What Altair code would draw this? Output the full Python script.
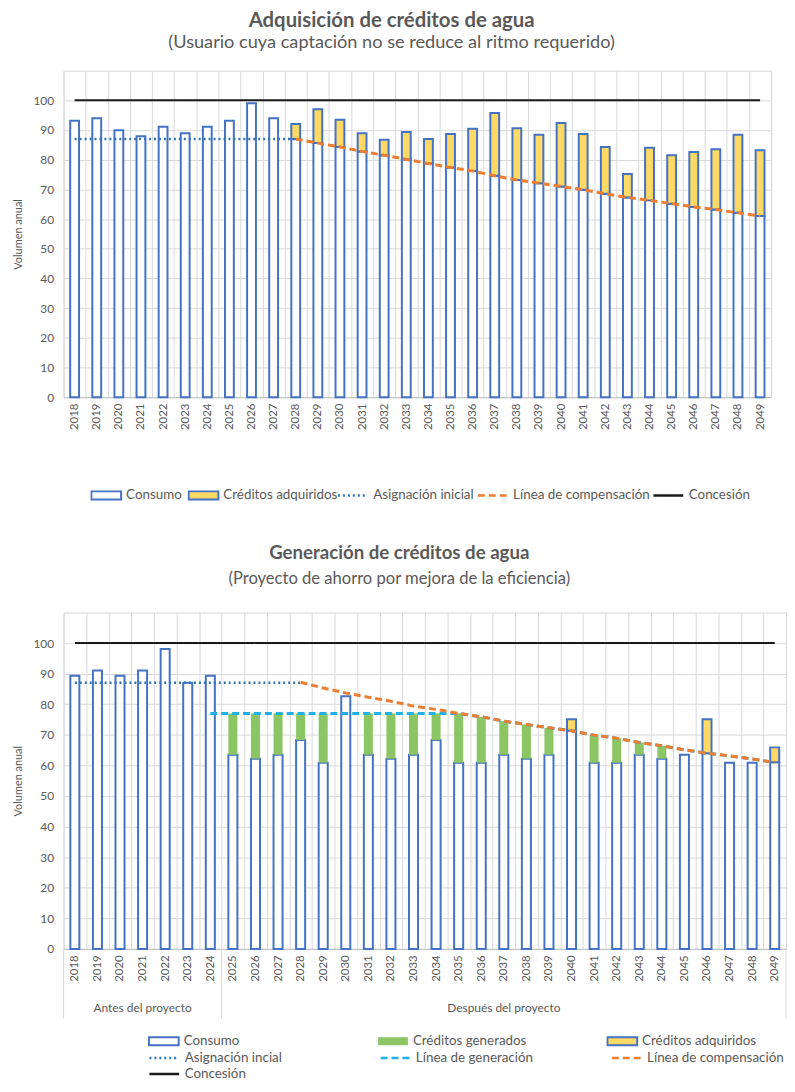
import altair as alt
import pandas as pd

FONT = "Lato"
GRAY = "#595959"
GRID = "#D9D9D9"
BLUE = "#4472C4"

years = [str(y) for y in range(2018, 2050)]

# ---------------- Chart 1: Adquisición de créditos de agua ----------------
a_consumo = [93.1, 94.0, 89.9, 87.9, 91.1, 88.9, 91.1, 93.1, 99.0, 94.0,
             87.0, 85.6, 84.3, 82.8, 81.5, 80.1, 78.7, 77.4, 76.2, 74.6, 73.2,
             72.1, 71.0, 69.9, 68.5, 67.3, 66.3, 65.2, 64.1, 63.2, 62.1, 61.0]
a_adquiridos = [0, 0, 0, 0, 0, 0, 0, 0, 0, 0,
                5.0, 11.4, 9.2, 6.1, 5.2, 9.2, 8.3, 11.3, 14.2, 21.1, 17.4,
                16.3, 21.4, 18.8, 15.8, 7.9, 17.7, 16.3, 18.5, 20.3, 26.3, 22.2]
a_asignacion = [87, 87, 87, 87, 87, 87, 87, 87, 87, 87, 87,
                None, None, None, None, None, None, None, None, None, None,
                None, None, None, None, None, None, None, None, None, None, None]
a_compensacion = [None, None, None, None, None, None, None, None, None, None,
                  87.0, 85.6, 84.3, 82.8, 81.5, 80.1, 78.7, 77.4, 76.2, 74.6, 73.2,
                  72.1, 71.0, 69.9, 68.5, 67.3, 66.3, 65.2, 64.1, 63.2, 62.1, 61.0]
a_concesion = [100] * 32

# ---------------- Chart 2: Generación de créditos de agua ----------------
b_consumo = [89.3, 91.0, 89.3, 91.0, 98.1, 87.0, 89.3,
             63.5, 62.2, 63.5, 68.3, 60.9, 82.6, 63.5, 62.2, 63.5, 68.3, 60.9,
             60.9, 63.5, 62.2, 63.5, 71.3, 60.9, 60.9, 63.5, 62.2, 63.5, 64.0,
             60.9, 60.9, 61.0]
b_generados = [0, 0, 0, 0, 0, 0, 0,
               13.5, 14.8, 13.5, 8.7, 16.1, 0, 13.5, 14.8, 13.5, 8.7, 16.1,
               15.0, 11.0, 11.2, 8.8, 0, 9.0, 8.0, 4.0, 4.2, 0, 0,
               0, 0, 0]
b_adquiridos = [0, 0, 0, 0, 0, 0, 0,
                0, 0, 0, 0, 0, 0, 0, 0, 0, 0, 0,
                0, 0, 0, 0, 3.8, 0, 0, 0, 0, 0, 11.1,
                0, 0, 4.9]
b_asignacion = [87, 87, 87, 87, 87, 87, 87, 87, 87, 87, 87,
                None, None, None, None, None, None, None, None, None, None,
                None, None, None, None, None, None, None, None, None, None, None]
b_generacion = [None, None, None, None, None, None,
                77, 77, 77, 77, 77, 77, 77, 77, 77, 77, 77, 77,
                75.9, 74.5, 73.4, 72.3, 71.3, 69.9, 68.9, 67.5, 66.4, 65.1, 64.0,
                63.1, 62.1, 61.0]
b_compensacion = [None, None, None, None, None, None, None, None, None, None,
                  87.2, 85.3, 83.7, 82.3, 81.0, 79.4, 78.3, 77.0, 75.9, 74.5, 73.4,
                  72.3, 71.3, 69.9, 68.9, 67.5, 66.4, 65.1, 64.0, 63.1, 62.1, 61.0]
b_concesion = [100] * 32

group_years = ["2021", "2037"]
group_labels = ["Antes del proyecto", "Después del proyecto"]


def bar_frame(series):
    rows = []
    for name, vals, k in series:
        for y, v in zip(years, vals):
            if v:
                rows.append({"year": y, "serie": name, "value": v, "orden": k})
    return pd.DataFrame(rows)


def line_frame(name, vals):
    return pd.DataFrame([{"year": y, "serie": name, "value": v}
                         for y, v in zip(years, vals) if v is not None])


BAR_SYMBOL = "M-1,-0.27H1V0.27H-1Z"


def legend(x, y, kind, **kw):
    base = dict(title=None, orient="none", direction="horizontal",
                legendX=x, legendY=y, symbolSize=900, clipHeight=16,
                labelFont=FONT, labelFontSize=13.5, labelColor=GRAY,
                labelOffset=4, labelLimit=300)
    if kind == "bar":
        base.update(symbolType=BAR_SYMBOL, symbolStrokeWidth=2)
    else:
        base.update(symbolType="stroke", symbolStrokeWidth=2.5)
    base.update(kw)
    return alt.Legend(**base)


def make_chart(width, height, bars, bar_dom, bar_fill, bar_stroke, bar_leg,
               lines, line_dom, line_col, line_dash, line_leg, title, extra=None):
    xscale = alt.Scale(domain=years, paddingInner=0, paddingOuter=0)
    yscale = alt.Scale(domain=[0, 110], nice=False)
    xaxis = alt.Axis(title=None, labelAngle=-90, labelFont=FONT, labelFontSize=11.5,
                     labelColor=GRAY, labelPadding=6, ticks=False, tickBand="extent",
                     grid=True, gridColor=GRID, domainColor="#BFBFBF")
    yaxis = alt.Axis(values=list(range(0, 101, 10)), title="Volumen anual",
                     titleFont=FONT, titleFontSize=11, titleFontWeight="normal",
                     titleColor=GRAY, labelFont=FONT, labelFontSize=12,
                     labelColor=GRAY, ticks=False, domain=False, grid=True,
                     gridColor=GRID, labelPadding=10, titlePadding=10)
    bdf = bar_frame(bars)
    layer = [
        alt.Chart(bdf).mark_bar(width=alt.RelativeBandSize(0.4), strokeWidth=2).encode(
            x=alt.X("year:O", scale=xscale, axis=xaxis),
            y=alt.Y("value:Q", stack="zero", scale=yscale, axis=yaxis),
            fill=alt.Fill("serie:N", scale=alt.Scale(domain=bar_dom, range=bar_fill), legend=bar_leg),
            stroke=alt.Stroke("serie:N", scale=alt.Scale(domain=bar_dom, range=bar_stroke), legend=bar_leg),
            order=alt.Order("orden:Q"),
        )
    ]
    color = alt.Color("serie:N", scale=alt.Scale(domain=line_dom, range=line_col), legend=line_leg)
    dash = alt.StrokeDash("serie:N", scale=alt.Scale(domain=line_dom, range=line_dash), legend=line_leg)
    for name, vals, w in lines:
        layer.append(
            alt.Chart(line_frame(name, vals)).mark_line(strokeWidth=w).encode(
                x=alt.X("year:O", scale=xscale, axis=xaxis),
                y=alt.Y("value:Q", scale=yscale, axis=yaxis),
                color=color, strokeDash=dash,
            )
        )
    if extra:
        layer.extend(extra)
    return alt.layer(*layer).properties(width=width, height=height, title=title)


def title_params(text, subtitle, fs, sfs, sub_pad, offset):
    return alt.TitleParams(
        text=text, subtitle=subtitle, anchor="middle", frame="bounds",
        font=FONT, fontSize=fs, fontWeight="bold", color=GRAY,
        subtitleFont=FONT, subtitleFontSize=sfs, subtitleColor=GRAY,
        subtitlePadding=sub_pad, offset=offset)


# ---------- top chart ----------
TOP_H = 329
top = make_chart(
    713, TOP_H,
    [("Consumo", a_consumo, 0), ("Créditos adquiridos", a_adquiridos, 2)],
    ["Consumo", "Créditos adquiridos"], ["white", "#FFD966"], [BLUE, BLUE],
    legend(27, 420, "bar", columnPadding=5),
    [("Asignación inicial", a_asignacion, 2.5),
     ("Línea de compensación", a_compensacion, 3),
     ("Concesión", a_concesion, 2)],
    ["Asignación inicial", "Línea de compensación", "Concesión"],
    ["#2E75B6", "#ED7D31", "#1A1A1A"], [[2, 3], [7, 4], [1, 0]],
    legend(275, 420, "line", columnPadding=2),
    title_params("Adquisición de créditos de agua",
                 "(Usuario cuya captación no se reduce al ritmo requerido)",
                 20.5, 18.3, 2, 20))

# ---------- bottom chart ----------
BOT_H = 339
gdf = pd.DataFrame({"year": group_years, "text": group_labels})
sep_start = pd.DataFrame({"year": ["2018", "2025"]})
sep_end = pd.DataFrame({"year": ["2049"]})
bx = alt.Scale(domain=years, paddingInner=0, paddingOuter=0)
extra = [
    alt.Chart(gdf).mark_text(font=FONT, fontSize=12, color=GRAY, baseline="middle").encode(
        x=alt.X("year:O", scale=bx), y=alt.value(BOT_H + 60), text="text:N"),
    alt.Chart(sep_start).mark_rule(color=GRID, strokeWidth=1).encode(
        x=alt.X("year:O", scale=bx, bandPosition=0), y=alt.value(BOT_H), y2=alt.value(BOT_H + 70)),
    alt.Chart(sep_end).mark_rule(color=GRID, strokeWidth=1).encode(
        x=alt.X("year:O", scale=bx, bandPosition=1), y=alt.value(BOT_H), y2=alt.value(BOT_H + 70)),
]

bottom = make_chart(
    728, BOT_H,
    [("Consumo", b_consumo, 0), ("Créditos generados", b_generados, 1),
     ("Créditos adquiridos", b_adquiridos, 2)],
    ["Consumo", "Créditos generados", "Créditos adquiridos"],
    ["white", "#8CC564", "#FFD966"], [BLUE, "transparent", BLUE],
    legend(85, 424, "bar", gridAlign="all", columnPadding=79),
    [("Asignación incial", b_asignacion, 2.5),
     ("Línea de generación", b_generacion, 3),
     ("Línea de compensación", b_compensacion, 3),
     ("Concesión", b_concesion, 2)],
    ["Asignación incial", "Línea de generación", "Línea de compensación", "Concesión"],
    ["#2E75B6", "#1FB0E8", "#ED7D31", "#1A1A1A"], [[2, 3], [7, 4], [7, 4], [1, 0]],
    legend(85, 441, "line", gridAlign="all", columns=3, columnPadding=58, rowPadding=0),
    title_params("Generación de créditos de agua",
                 "(Proyecto de ahorro por mejora de la eficiencia)",
                 18.8, 16.7, 8, 25),
    extra)

chart = alt.vconcat(top, bottom, spacing=40).resolve_scale(
    x="independent", y="independent", fill="independent", stroke="independent",
    color="independent", strokeDash="independent"
).resolve_legend(
    fill="independent", stroke="independent", color="independent", strokeDash="independent"
).properties(
    padding={"left": 3, "top": -2, "right": 0, "bottom": 0}
).configure_view(stroke=GRID)

chart.save("out.html", embed_options={"renderer": "svg", "actions": False})
